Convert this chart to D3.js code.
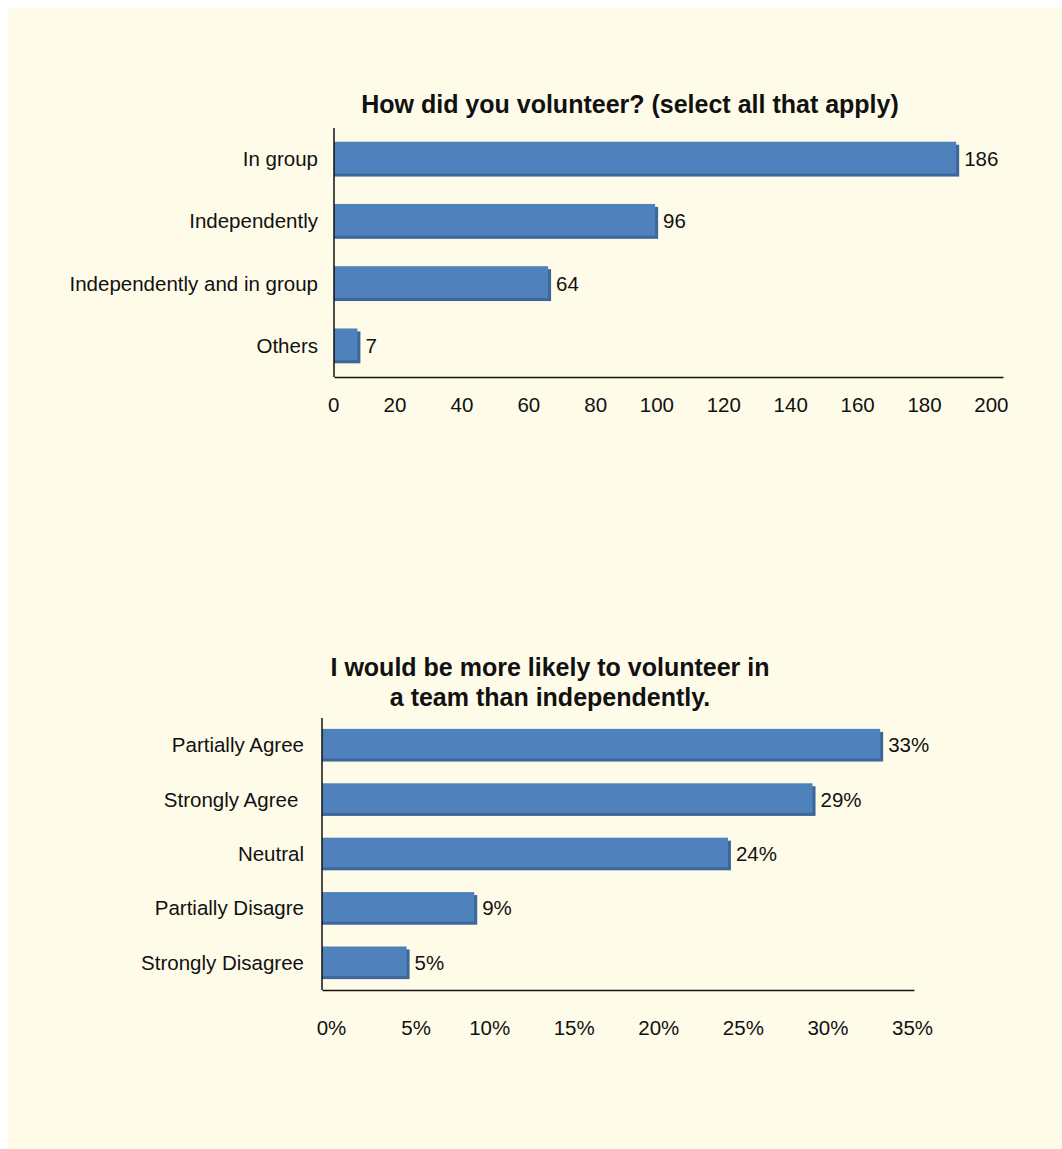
<!DOCTYPE html>
<html>
<head>
<meta charset="utf-8">
<script src="https://cdn.jsdelivr.net/npm/d3@7"></script>
<style>
  html, body { margin: 0; padding: 0; background: #ffffff; }
  svg { display: block; }
  text { font-family: "Liberation Sans", Arial, Helvetica, sans-serif; fill: #111; white-space: pre; }
</style>
</head>
<body>
<svg id="chart" width="1062" height="1149"></svg>
<script>
// Survey: how respondents volunteered (counts)
const methodCategories = ["In group", "Independently", "Independently and in group", "Others"];
const methodValues = [186, 96, 64, 7];
const methodTicks = [0, 20, 40, 60, 80, 100, 120, 140, 160, 180, 200];

// Survey: preference for team volunteering (percent of respondents)
const teamCategories = ["Partially Agree", "Strongly Agree ", "Neutral", "Partially Disagre", "Strongly Disagree"];
const teamValues = [33, 29, 24, 9, 5];
const teamTicks = [0, 5, 10, 15, 20, 25, 30, 35];

const BAR = "#4f81bd";
const BAR_EDGE = "#3d6699";

const svg = d3.select("#chart");

// cream panel
svg.append("rect")
  .attr("x", 8).attr("y", 8)
  .attr("width", 1062 - 8).attr("height", 1149 - 8)
  .attr("fill", "#fffbe9");

function barChart(opts) {
  const g = svg.append("g");
  const x = d3.scaleLinear().domain(opts.domain).range([opts.left, opts.right]);
  const y = d3.scaleBand().domain(opts.categories).range([opts.top, opts.bottom])
    .paddingInner(opts.padding).paddingOuter(opts.padding / 2);

  // title
  const title = g.append("text")
    .attr("x", opts.titleX)
    .attr("y", opts.titleY)
    .attr("text-anchor", "middle")
    .style("font-weight", "bold")
    .style("font-size", "25px");
  opts.title.forEach((line, i) => {
    title.append("tspan").attr("x", opts.titleX).attr("dy", i === 0 ? 0 : 30).text(line);
  });

  const rows = opts.categories.map((c, i) => ({ c, v: opts.values[i] }));
  const mid = d => y(d.c) + y.bandwidth() / 2;

  // bevelled bars: darker edge shifted down/right, face on top
  g.selectAll("rect.edge").data(rows).join("rect")
    .attr("class", "edge")
    .attr("x", x(0))
    .attr("y", d => y(d.c) + 3)
    .attr("width", d => x(d.v) - x(0) + 3)
    .attr("height", y.bandwidth() - 3)
    .attr("fill", BAR_EDGE);
  g.selectAll("rect.face").data(rows).join("rect")
    .attr("class", "face")
    .attr("x", x(0))
    .attr("y", d => y(d.c))
    .attr("width", d => x(d.v) - x(0))
    .attr("height", y.bandwidth() - 3)
    .attr("fill", BAR);

  // value labels
  g.selectAll("text.val").data(rows).join("text")
    .attr("class", "val")
    .attr("x", d => x(d.v) + 8)
    .attr("y", d => mid(d) + 7)
    .style("font-size", "20.5px")
    .text(d => d.v + opts.suffix);

  // category labels
  g.selectAll("text.cat").data(rows).join("text")
    .attr("class", "cat")
    .attr("x", opts.catX)
    .attr("y", d => mid(d) + 7)
    .attr("text-anchor", "end")
    .style("font-size", "20.5px")
    .text(d => d.c);

  // axes lines
  g.append("line")
    .attr("x1", x(0)).attr("x2", x(0))
    .attr("y1", opts.top).attr("y2", opts.bottom)
    .attr("stroke", "#111").attr("stroke-width", 1.5);
  const xAxis = d3.axisBottom(x)
    .tickValues(opts.ticks)
    .tickSize(0)
    .tickPadding(opts.tickPad)
    .tickFormat(d => d + opts.suffix);
  const ax = g.append("g")
    .attr("transform", `translate(0,${opts.bottom})`)
    .call(xAxis);
  ax.select(".domain").attr("stroke", "#111").attr("stroke-width", 1.5);
  ax.selectAll("text")
    .style("font-size", "20.5px")
    .style("fill", "#111")
    .attr("text-anchor", opts.tickAnchor)
    .attr("dx", opts.tickDx);
}

barChart({
  categories: methodCategories,
  values: methodValues,
  ticks: methodTicks,
  domain: [0, 200],
  left: 334, right: 1003, top: 128, bottom: 377,
  padding: 0.44,
  title: ["How did you volunteer? (select all that apply)"],
  titleX: 630, titleY: 113,
  catX: 318,
  suffix: "",
  tickPad: 20,
  tickAnchor: "end",
  tickDx: 5
});

barChart({
  categories: teamCategories,
  values: teamValues,
  ticks: teamTicks,
  domain: [0, 35],
  left: 322, right: 914, top: 718, bottom: 990,
  padding: 0.4,
  title: ["I would be more likely to volunteer in", "a team than independently."],
  titleX: 550, titleY: 676,
  catX: 304,
  suffix: "%",
  tickPad: 30,
  tickAnchor: "middle",
  tickDx: d => (d < 10 ? 9 : -2)
});
</script>
</body>
</html>
